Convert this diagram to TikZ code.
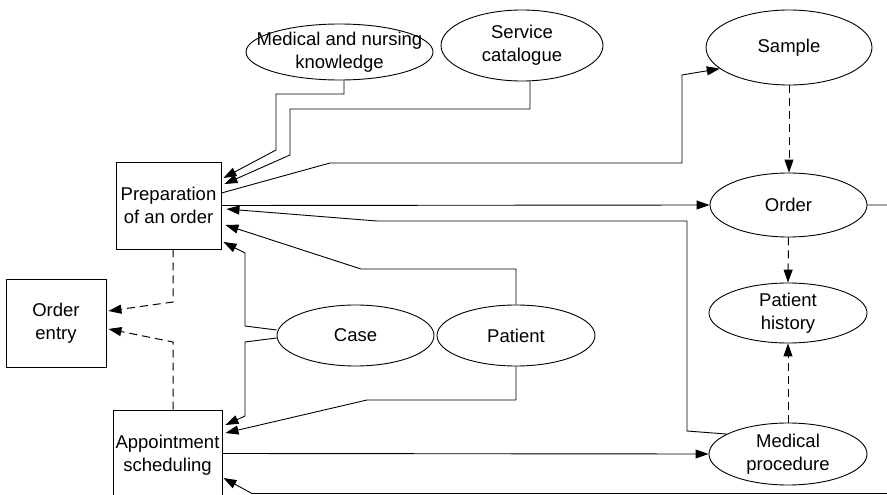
\documentclass[tikz,border=0pt]{standalone}
\usepackage{fontspec}
\setmainfont{Liberation Sans}
\usetikzlibrary{shapes.geometric,arrows.meta}

\begin{document}
\begin{tikzpicture}[x=1pt,y=1pt]
\tikzstyle{every node}+=[inner sep=0pt, font=\fontsize{18.5}{23}\selectfont, align=center]
\tikzstyle{box}=[draw, rectangle, line width=0.9pt]
\tikzstyle{ell}=[draw, ellipse, line width=0.9pt]
\tikzstyle{flow}=[line width=0.9pt, -{Triangle[length=13pt,width=9pt]}]
\tikzstyle{dep}=[flow, line width=1pt, dash pattern=on 8pt off 5pt]
\useasboundingbox (0,0) rectangle (887,-495);
\clip (0,0) rectangle (887,-495);
\node [box, minimum width=105pt, minimum height=87pt] (prep) at (168.5,-205.5) {Preparation\\of an order};
\node [box, minimum width=100pt, minimum height=88pt] (oentry) at (56,-323) {Order\\entry};
\node [box, minimum width=109pt, minimum height=90pt] (appt) at (167.5,-455) {Appointment\\scheduling};
\node [ell, minimum width=187pt, minimum height=56pt, label=center:{Medical and nursing\\knowledge}] (know) at (339.5,-52) {};
\node [ell, minimum width=162pt, minimum height=71pt, label=center:{Service\\catalogue}] (catalogue) at (522,-45.5) {};
\node [ell, minimum width=166pt, minimum height=75pt, label=center:{Sample}] (sample) at (789,-47.5) {};
\node [ell, minimum width=157pt, minimum height=64pt, label=center:{Order}] (order) at (788.5,-205) {};
\node [ell, minimum width=158pt, minimum height=60pt, label=center:{Patient\\history}] (history) at (788,-313) {};
\node [ell, minimum width=158pt, minimum height=62pt, label=center:{Medical\\procedure}] (medproc) at (788,-454) {};
\node [ell, minimum width=157pt, minimum height=61pt, label=center:{Case}] (case) at (355.5,-335.5) {};
\node [ell, minimum width=158pt, minimum height=61pt, label=center:{Patient}] (patient) at (516,-335.5) {};
\draw [black, flow] ([xshift=4.5pt]know.south) |- (276,-94) -- (276,-150) -- ([xshift=2pt,yshift=27.5pt]prep.east);
\draw [black, flow] ([xshift=8pt]catalogue.south) |- (290,-109) -- (290,-155) -- ([xshift=3pt,yshift=21.5pt]prep.east);
\draw [black, flow] ([yshift=12.5pt]prep.east) -- (330,-163) -- (682,-163) -- (682,-75) -- (sample.197);
\draw [black, flow] (prep.east) -- (order.west);
\draw [black, flow] (order.east) -- (900,-205) -- (900,-493.5) -- (252,-493.5) -- ([xshift=1pt,yshift=-23pt]appt.east);
\draw [black, flow] (medproc.162) -- (687,-431) -- (687,-221) -- (377,-221) -- ([xshift=5pt,yshift=-3.5pt]prep.east);
\draw [black, flow] (patient.north) |- (361,-269) -- ([xshift=4pt,yshift=-19.5pt]prep.east);
\draw [black, flow] ([yshift=5.5pt]case.west) -- (245,-326) -- (245,-253) -- ([xshift=2pt,yshift=-36.5pt]prep.east);
\draw [black, flow] ([yshift=-2.5pt]case.west) -- (245,-342) -- (245,-416) -- ([xshift=3pt,yshift=30pt]appt.east);
\draw [black, flow] (patient.south) |- (367,-400) -- ([xshift=3pt,yshift=22pt]appt.east);
\draw [black, flow] ([yshift=1.5pt]appt.east) -- (medproc.west);
\draw [black, dep] ([xshift=4.5pt]prep.south) -- (173,-302) -- ([xshift=2pt,yshift=12pt]oentry.east);
\draw [black, dep] ([xshift=5.5pt]appt.north) -- (173,-342) -- ([xshift=2pt,yshift=-6pt]oentry.east);
\draw [black, dep] (sample.south) -- (sample.south |- order.north);
\draw [black, dep] (order.south) -- (history.north);
\draw [black, dep] (medproc.north) -- (history.south);
\end{tikzpicture}
\end{document}
